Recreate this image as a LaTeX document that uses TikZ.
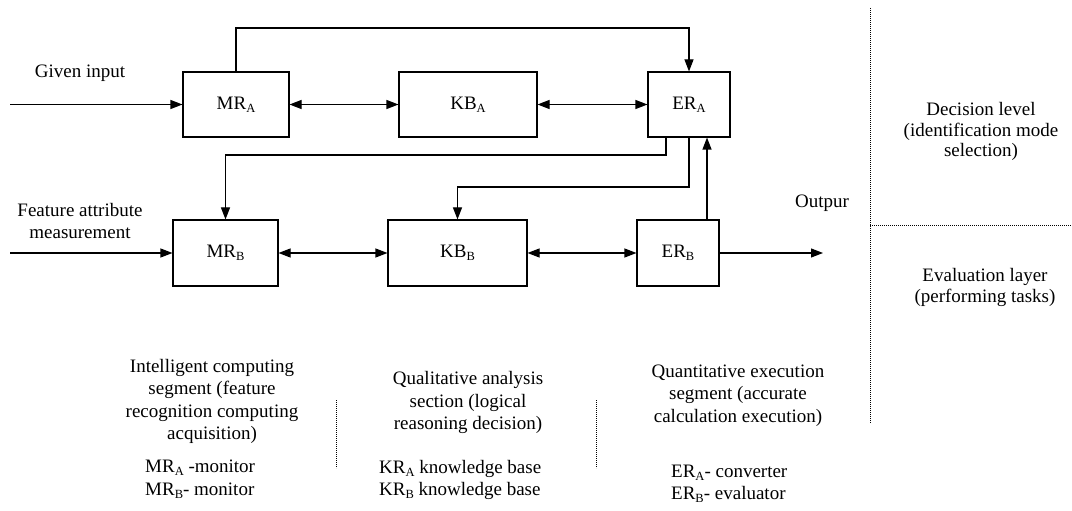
\documentclass[tikz,border=0pt]{standalone}
\usepackage{fontspec}
\setmainfont{Liberation Serif}
\usetikzlibrary{arrows.meta}

% small lowered index letter used in the block names
\newcommand{\sbx}[1]{\raisebox{-3bp}{\fontsize{12.5bp}{12.5bp}\selectfont #1}}

\tikzset{
  txt/.style={font=\fontsize{19bp}{22.5bp}\selectfont, inner sep=0pt, align=center},
  block/.style={txt, draw, line width=1.1bp, minimum height=65bp},
  arr/.style={line width=1.1bp, -{Triangle[length=12bp,width=9bp]}},
  biarr/.style={line width=1.1bp, {Triangle[length=12bp,width=9bp]}-{Triangle[length=12bp,width=9bp]}},
  sep/.style={line width=0.9bp, dash pattern=on 1bp off 1bp}
}

\begin{document}
\begin{tikzpicture}[x=1bp, y=-1bp]
\useasboundingbox (0,0) rectangle (1072,511);
\fill[white] (0,0) rectangle (1072,511);

% upper row (decision level)
\node[block, minimum width=106bp] (MRA) at (236,104.5) {MR\sbx{A}};
\node[block, minimum width=138bp] (KBA) at (468,104.5) {KB\sbx{A}};
\node[block, minimum width=82bp]  (ERA) at (689,104.5) {ER\sbx{A}};

% lower row (evaluation layer)
\node[block, minimum width=105bp, minimum height=66bp] (MRB) at (225.5,253) {MR\sbx{B}};
\node[block, minimum width=139bp, minimum height=66bp] (KBB) at (457.5,253) {KB\sbx{B}};
\node[block, minimum width=82bp,  minimum height=66bp] (ERB) at (678,253) {ER\sbx{B}};

% free ends and routing points
\coordinate (inA) at (10,104.5);
\coordinate (inB) at (10,253);
\coordinate (outB) at (823,253);
\coordinate (fbtop) at (460,28);
\coordinate (fbA) at (440,155);
\coordinate (fbB) at (570,187);

% connectors
\draw[arr] (inA) -- (MRA);
\draw[biarr] (MRA) -- (KBA);
\draw[biarr] (KBA) -- (ERA);
\draw[arr] (MRA.north) |- (fbtop) -| (ERA.north);
\draw[arr] ([xshift=-23bp]ERA.south) |- (fbA) -| (MRB.north);
\draw[arr] (ERA.south) |- (fbB) -| (KBB.north);
\draw[arr] ([xshift=29bp]ERB.north) -- ([xshift=29bp]ERB.north |- ERA.south);
\draw[arr] (inB) -- (MRB);
\draw[biarr] (MRB) -- (KBB);
\draw[biarr] (KBB) -- (ERB);
\draw[arr] (ERB) -- (outB);

% side labels
\node[txt] (lgiven) at (80,73) {Given input};
\node[txt] (lfeat) at (80,221) {Feature attribute\\measurement};
\node[txt] (lout) at (822,203) {Outpur};

% level separators
\coordinate (vt) at (870,8);
\coordinate (vb) at (870,423);
\coordinate (hl) at (870,225);
\coordinate (hr) at (1072,225);
\draw[sep] (vt) -- (vb);
\draw[sep] (hl) -- (hr);
\node[txt, font=\fontsize{19bp}{20.5bp}\selectfont] (ldec) at (981,131.5) {Decision level\\(identification mode\\selection)};
\node[txt, font=\fontsize{19bp}{21bp}\selectfont] (leval) at (985,287.5) {Evaluation layer\\(performing tasks)};

% segment descriptions
\node[txt] (lint) at (212,401.5) {Intelligent computing\\segment (feature\\recognition computing\\acquisition)};
\node[txt] (lqual) at (468,402.5) {Qualitative analysis\\section (logical\\reasoning decision)};
\node[txt] (lquan) at (738,395.5) {Quantitative execution\\segment (accurate\\calculation execution)};

\node[txt, align=left, anchor=west] (kmr) at (145,479) {MR\sbx{A} -monitor\\MR\sbx{B}- monitor};
\node[txt, align=left, anchor=west] (kkr) at (379,480) {KR\sbx{A} knowledge base\\KR\sbx{B} knowledge base};
\node[txt, align=left, anchor=west] (ker) at (671,484) {ER\sbx{A}- converter\\ER\sbx{B}- evaluator};

\coordinate (s1t) at (336,400);
\coordinate (s1b) at (336,468);
\coordinate (s2t) at (596,400);
\coordinate (s2b) at (596,468);
\draw[sep] (s1t) -- (s1b);
\draw[sep] (s2t) -- (s2b);
\end{tikzpicture}
\end{document}
